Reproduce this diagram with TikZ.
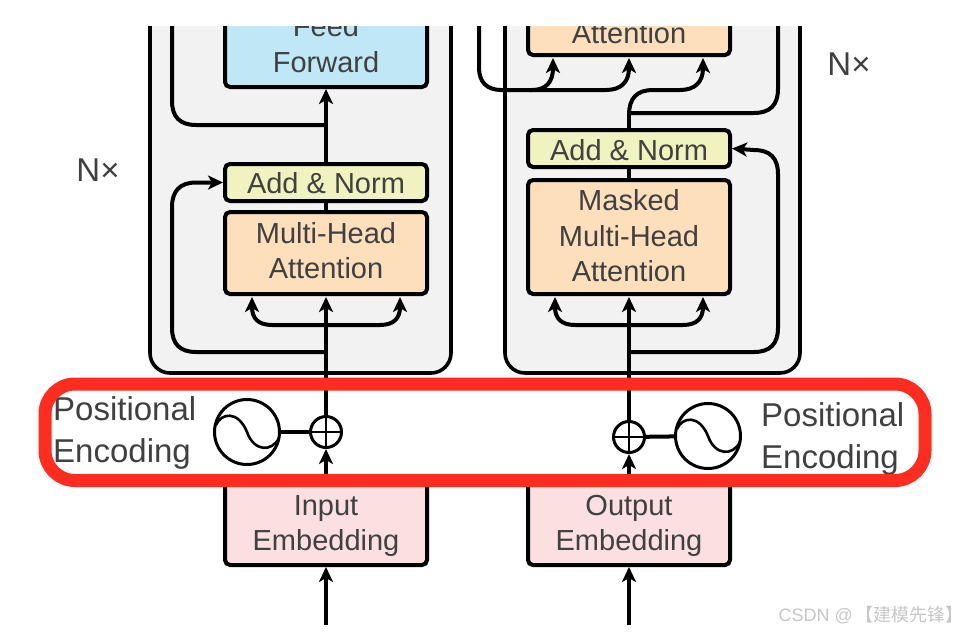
\documentclass[tikz,border=0pt]{standalone}
\usepackage{fontspec}
\setmainfont{Liberation Sans}
\newfontfamily\cjkfont{Noto Sans CJK SC}
\usetikzlibrary{arrows.meta,calc}
\definecolor{txt}{HTML}{404040}
\definecolor{panel}{HTML}{F2F2F2}
\definecolor{ffc}{HTML}{C0E7F6}
\definecolor{normc}{HTML}{F0F3BF}
\definecolor{attc}{HTML}{FDDFBC}
\definecolor{embc}{HTML}{FBDFE1}
\definecolor{redc}{HTML}{FF2D1F}
\tikzset{
  x=1pt,y=-1pt,
  panelbox/.style={draw=black,line width=3.6pt,fill=panel,rounded corners=20pt},
  block/.style={draw=black,line width=4pt,rounded corners=5pt,minimum width=202pt,inner sep=0pt,align=center,text=txt,
    font=\fontsize{29}{35.5}\selectfont},
  conn/.style={draw=black,line width=4pt},
  arrow/.style={conn,-{Stealth[length=15pt,width=14pt,inset=4pt]}},
  circ/.style={draw=black,line width=3pt,circle,fill=white,inner sep=0pt},
  side/.style={text=txt,align=left,inner sep=0pt,font=\fontsize{33}{42}\selectfont},
  nx/.style={text=txt,inner sep=0pt,font=\fontsize{33}{36}\selectfont},
}
\begin{document}
\begin{tikzpicture}
\useasboundingbox (0,0) rectangle (967,633);
\fill[white] (0,0) rectangle (967,633);
\begin{scope}
\clip (0,26) rectangle (967,633);
% panels
\draw[panelbox] (150,-30) rectangle (451,373);
\draw[panelbox] (505,-30) rectangle (800,373);
% blocks
\node[block,fill=ffc,minimum height=84pt,text depth=2pt] (ffL) at (326,45) {Feed\\Forward};
\node[block,fill=normc,minimum height=37pt] (addL) at (326,182.5) {\rule{0pt}{23pt}Add \& Norm};
\node[block,fill=attc,minimum height=82pt,text depth=5pt] (mhaL) at (326,253) {Multi-Head\\Attention};
\node[block,fill=attc,minimum height=44pt] (attR) at (629,33) {Attention};
\node[block,fill=normc,minimum height=37pt] (addR) at (629,148.5) {\rule{0pt}{24pt}Add \& Norm};
\node[block,fill=attc,minimum height=114pt,text depth=3pt] (mhaR) at (629,237) {Masked\\Multi-Head\\Attention};
\node[block,fill=embc,minimum height=84pt] (embL) at (326,523) {\rule{0pt}{26pt}Input\\Embedding};
\node[block,fill=embc,minimum height=84pt] (embR) at (629,523) {\rule{0pt}{26pt}Output\\Embedding};
% adders and oscillators
\node[circ,minimum size=31pt] (sumL) at (326,432) {};
\node[circ,minimum size=31pt] (sumR) at (629,437) {};
\node[circ,minimum size=65pt] (oscL) at (247,432) {};
\node[circ,minimum size=65pt] (oscR) at (708,436) {};
\draw[line width=2pt] (sumL.west) -- (sumL.east) (sumL.north) -- (sumL.south);
\draw[line width=2pt] (sumR.west) -- (sumR.east) (sumR.north) -- (sumR.south);
\draw[line width=2.6pt] (216,425) .. controls (221,413) and (238,410) .. (247,432) .. controls (254,452) and (272,452) .. (279,438);
\draw[line width=2.6pt] (677,429) .. controls (682,417) and (699,414) .. (708,436) .. controls (715,456) and (733,456) .. (740,442);
\draw[conn] (oscL) -- (sumL);
\draw[conn] (sumR) -- (oscR);
% free ends
\coordinate (inL) at (326,625);
\coordinate (inR) at (629,625);
\coordinate (topL) at (172,20);
\coordinate (topR) at (778,20);
\coordinate (topRL) at (479,20);
\coordinate (tipA) at (252,297);
\coordinate (tipB) at (326,297);
\coordinate (tipC) at (400,297);
\coordinate (tipD) at (555,297);
\coordinate (tipE) at (629,297);
\coordinate (tipF) at (703,297);
\coordinate (tipG) at (553,58);
\coordinate (tipH) at (629,58);
\coordinate (tipI) at (703,58);
% encoder connectors
\draw[arrow] (inL) -- (embL.south);
\draw[arrow] (embL.north) -- (sumL.south);
\draw[conn] (sumL.north) -- (326,325);
\draw[arrow] (326,330) -- (tipB);
\draw[arrow] (326,325) -- (272,325) .. controls (258,325) and (252,318) .. (tipA);
\draw[arrow] (326,325) -- (380,325) .. controls (394,325) and (400,318) .. (tipC);
\draw[arrow] (326,352) -- (196,352) .. controls (180,352) and (172,344) .. (172,328) -- (172,207) .. controls (172,191) and (180,182.5) .. (196,182.5) -- (addL.west);
\draw[conn] (mhaL.north) -- (addL.south);
\draw[arrow] (addL.north) -- (ffL.south);
\draw[conn] (326,125) -- (196,125) .. controls (180,125) and (172,117) .. (172,101) -- (topL);
% decoder connectors
\draw[arrow] (inR) -- (embR.south);
\draw[arrow] (embR.north) -- (sumR.south);
\draw[conn] (sumR.north) -- (629,325);
\draw[arrow] (629,330) -- (tipE);
\draw[arrow] (629,325) -- (575,325) .. controls (561,325) and (555,318) .. (tipD);
\draw[arrow] (629,325) -- (683,325) .. controls (697,325) and (703,318) .. (tipF);
\draw[arrow] (629,352) -- (754,352) .. controls (770,352) and (778,344) .. (778,328) -- (778,174) .. controls (778,158) and (770,150) .. (754,150) -- (addR.east);
\draw[conn] (mhaR.north) -- (addR.south);
\draw[conn] (addR.north) -- (629,113);
\draw[conn] (629,113) -- (754,113) .. controls (770,113) and (778,105) .. (778,89) -- (topR);
\draw[arrow] (629,115) .. controls (629,98) and (637,90) .. (653,90) -- (680,90) .. controls (695,90) and (703,82) .. (tipI);
\draw[arrow] (topRL) -- (479,68) .. controls (479,82) and (487,90) .. (501,90) -- (532,90) .. controls (546,90) and (553,82) .. (tipG);
\draw[arrow] (530,90) -- (606,90) .. controls (621,90) and (629,82) .. (tipH);
\end{scope}
% labels
\node[nx] (nxL) at (98,170) {N×};
\node[nx] (nxR) at (849,64) {N×};
\node[side,anchor=west] (peL) at (53,433) {Positional\\Encoding};
\node[side,anchor=west] (peR) at (761,439) {Positional\\Encoding};
% highlight
\draw[draw=redc,line width=13pt,rounded corners=30pt] (45,384) rectangle (925,480.5);
% watermark
\node[anchor=east,inner sep=0pt,text=black!22,font=\fontsize{18}{20}\selectfont] (wm) at (964,615) {CSDN @\,{\cjkfont 【建模先锋】}};
\end{tikzpicture}
\end{document}
